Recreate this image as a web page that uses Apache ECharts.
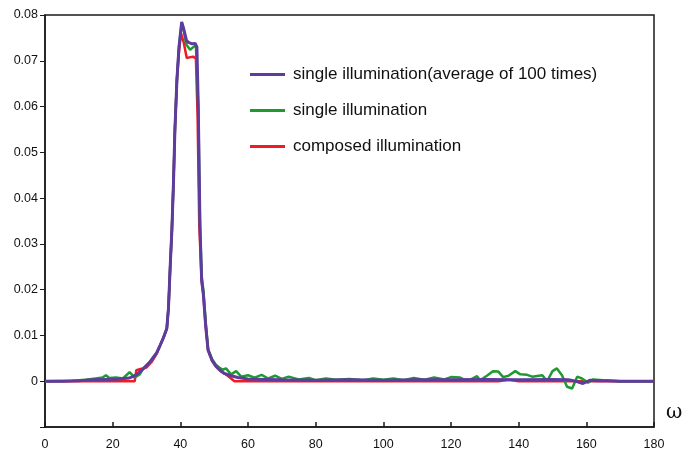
<!DOCTYPE html>
<html><head><meta charset="utf-8">
<script src="https://cdn.jsdelivr.net/npm/echarts@6/dist/echarts.min.js"></script>
<style>html,body{margin:0;padding:0;background:#fff}#c{width:688px;height:455px}</style>
</head><body><div id="c"></div>
<script>
const xTicks = [0,20,40,60,80,100,120,140,160,180];
const yTicks = [0,0.01,0.02,0.03,0.04,0.05,0.06,0.07,0.08];
const yMin = -0.01;
const seriesNames = ['single illumination(average of 100 times)','single illumination','composed illumination'];

const omegaAvg = [0,5,10,14,18,22,25,27,29,31,33,34,35,36,36.5,37,37.5,38,38.4,39,39.6,40.4,41,41.8,42.4,43.5,44.4,44.9,45.3,45.8,46.3,46.8,47.5,48.2,49.4,50.5,51.7,53,55,57,60,65,70,80,90,100,110,120,130,140,150,155,157,159,161,163,166,170,175,180];
const valuesAvg = [0,0,0.0001,0.0003,0.0004,0.0005,0.0007,0.0014,0.0027,0.0042,0.0062,0.0078,0.0095,0.0115,0.016,0.025,0.033,0.044,0.055,0.066,0.073,0.0785,0.077,0.0745,0.074,0.0737,0.0738,0.073,0.06,0.034,0.022,0.019,0.012,0.0068,0.0045,0.0033,0.0024,0.0017,0.0012,0.0008,0.0005,0.0004,0.0003,0.0002,0.0003,0.0002,0.0003,0.0003,0.0004,0.0003,0.0004,0.0003,0.0,-0.0005,0.0002,0.0001,0.0001,0,0,0];

const omegaSingle = [0,8,12,15,17,18,19,21,23,25,26.5,28,29,31,33,34,35,36,36.5,37,37.5,38,38.4,39,39.6,40.4,41,41.8,42.9,44,44.6,45.3,45.8,46.3,46.8,47.5,48.2,49.4,50.5,51.5,52.5,53.5,55,56.5,58,60,62,64,66,68,70,72,75,78,80,83,86,90,94,97,100,103,106,109,112,115,118,120,122.7,124,125.6,127.7,128.6,130.6,132.4,134,135.4,137,139,140.5,142.5,144,147,148.4,150,151.3,152.8,154.3,155.8,157.3,158.7,160.5,162,165,170,180];
const valuesSingle = [0,0.0001,0.0003,0.0006,0.0008,0.0013,0.0007,0.0008,0.0006,0.002,0.0008,0.0015,0.0027,0.0042,0.0062,0.0078,0.0095,0.0115,0.016,0.025,0.033,0.044,0.055,0.066,0.073,0.0783,0.0765,0.0735,0.0724,0.0731,0.0733,0.06,0.035,0.023,0.02,0.013,0.007,0.0048,0.0036,0.003,0.0025,0.0028,0.0015,0.0022,0.001,0.0013,0.0008,0.0014,0.0006,0.0012,0.0005,0.001,0.0004,0.0007,0.0002,0.0006,0.0003,0.0005,0.0002,0.0006,0.0003,0.0006,0.0002,0.0007,0.0003,0.0008,0.0004,0.0009,0.0008,0.0003,0.0003,0.0011,0.0002,0.0012,0.0022,0.0021,0.0009,0.0012,0.0022,0.0015,0.0014,0.001,0.0013,0.0,0.0022,0.0028,0.0013,-0.0012,-0.0016,0.001,0.0006,-0.0003,0.0004,0.0002,0,0];

const omegaComposed = [0,26.5,27,28,30,31.5,33,34,35,36,36.5,37,37.5,38,38.4,39,39.6,40.2,41,41.9,43,43.8,44.6,45.1,45.6,46.3,46.8,47.5,48.2,49.4,50.5,52,54,56,60,100,134,137,140,180];
const valuesComposed = [0,0,0.0024,0.0026,0.003,0.0042,0.006,0.0078,0.0095,0.0115,0.016,0.025,0.033,0.044,0.055,0.066,0.072,0.076,0.074,0.0706,0.0708,0.0709,0.0705,0.058,0.034,0.022,0.019,0.012,0.0068,0.0045,0.0033,0.0022,0.0012,0,0,0,0,0.0003,0,0];

const colors = ['#5d3b9f','#1f9a2f','#ee1c25'];
function pairs(xs, ys){ return xs.map((x,i)=>[x, ys[i]]); }

const chart = echarts.init(document.getElementById('c'));
chart.setOption({
  animation:false,
  grid:{left:45, right:34, top:15, bottom:28, show:true, borderColor:'#1a1a1a', borderWidth:1.5},
  legend:{
    orient:'vertical', left:245, top:61, itemWidth:35, itemHeight:3, itemGap:19,
    icon:'rect',
    data:seriesNames,
    textStyle:{fontFamily:'Liberation Sans, Arial', fontSize:17, color:'#111', padding:[0,0,0,3]}
  },
  xAxis:{
    type:'value', min:0, max:180, interval:20, position:'bottom',
    axisLine:{show:true, onZero:false, lineStyle:{color:'#1a1a1a', width:1.5}},
    axisTick:{show:true, inside:true, length:5, lineStyle:{color:'#1a1a1a', width:1.5}},
    axisLabel:{margin:11, fontFamily:'Liberation Sans, Arial', fontSize:12.5, color:'#111',
      formatter:v=> xTicks.includes(v) ? String(v) : ''},
    splitLine:{show:false}
  },
  yAxis:{
    type:'value', min:yMin, max:0.08, interval:0.01, position:'left',
    axisLine:{show:true, onZero:false, lineStyle:{color:'#1a1a1a', width:1.5}},
    axisTick:{show:true, inside:false, length:5, lineStyle:{color:'#1a1a1a'}},
    axisLabel:{margin:7, fontFamily:'Liberation Sans, Arial', fontSize:12.5, color:'#111',
      formatter:v=>{ const t = yTicks.find(a=>Math.abs(a-v)<1e-9); return t===undefined ? '' : (t===0 ? '0' : t.toFixed(2)); }},
    splitLine:{show:false}
  },
  graphic:[{type:'text', left:666, top:403, style:{text:'ω', font:'20px "DejaVu Serif", "Liberation Serif", serif', fill:'#111'}}],
  series:[
    {name:seriesNames[2], type:'line', data:pairs(omegaComposed, valuesComposed), showSymbol:false, symbol:'none', lineStyle:{width:2.5, color:colors[2]}, itemStyle:{color:colors[2]}, z:2},
    {name:seriesNames[1], type:'line', data:pairs(omegaSingle, valuesSingle), showSymbol:false, symbol:'none', lineStyle:{width:2.5, color:colors[1]}, itemStyle:{color:colors[1]}, z:3},
    {name:seriesNames[0], type:'line', data:pairs(omegaAvg, valuesAvg), showSymbol:false, symbol:'none', lineStyle:{width:3, color:colors[0]}, itemStyle:{color:colors[0]}, z:4}
  ]
});
</script></body></html>
